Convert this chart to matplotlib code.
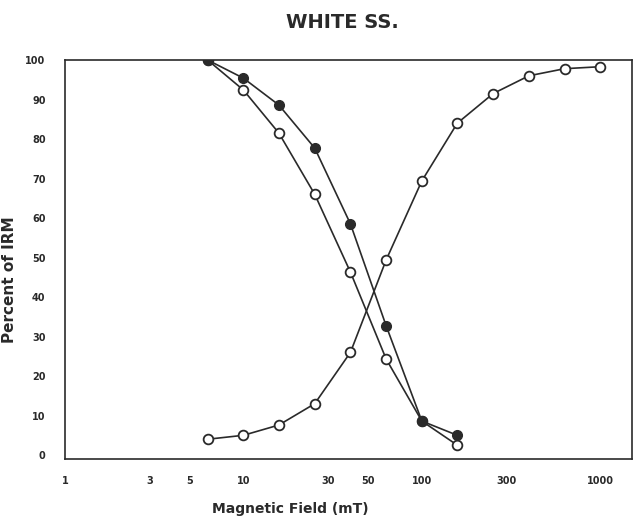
import matplotlib
matplotlib.use("Agg")
import matplotlib.pyplot as plt

# alternating field / acquisition steps (mT)
field = [6.3, 10, 15.8, 25.1, 39.8, 63.1, 100, 158, 251, 398, 631, 1000]

# IRM acquisition (open circles, rising)
irm_acq = [4, 5, 7.6, 13, 26, 49.4, 69.4, 84, 91.5, 96, 97.8, 98.3]
# AF demagnetisation (open circles, falling)
af_open = [100, 92.4, 81.5, 66, 46.3, 24.3, 8.6, 2.5]
# AF demagnetisation (filled circles)
af_fill = [100, 95.4, 88.6, 77.7, 58.5, 32.7, 8.6, 5]

xticks = [1, 3, 5, 10, 30, 50, 100, 300, 1000]
yticks = list(range(0, 101, 10))

ink = "#2a2a2a"

fig = plt.figure(figsize=(6.37, 5.18), dpi=100)
ax = fig.add_axes([65 / 637, 1 - 459 / 518, (632 - 65) / 637, (459 - 60) / 518])

ax.plot(field, irm_acq, color=ink, lw=1.2, marker="o", ms=7,
        mfc="white", mec=ink, mew=1.3)
ax.plot(field[:len(af_open)], af_open, color=ink, lw=1.2, marker="o", ms=7,
        mfc="white", mec=ink, mew=1.3)
ax.plot(field[:len(af_fill)], af_fill, color=ink, lw=1.2, marker="o", ms=7,
        mfc=ink, mec=ink, mew=1.0)

ax.set_xscale("log")
ax.set_xlim(1.066, 1506)
ax.set_ylim(-1, 100)

ax.set_xticks(xticks)
ax.set_xticklabels([str(t) for t in xticks])
ax.minorticks_off()
ax.set_yticks(yticks)
ax.tick_params(length=0, labelsize=7, colors=ink)
ax.tick_params(axis="x", pad=12)
ax.tick_params(axis="y", pad=14)
for lab in ax.get_xticklabels() + ax.get_yticklabels():
    lab.set_fontweight("bold")

for s in ax.spines.values():
    s.set_color(ink)
    s.set_linewidth(1.2)

fig.text(342 / 637, 1 - 22 / 518, "WHITE SS.", ha="center", va="center",
         fontsize=14, fontweight="bold", color=ink)
fig.text(290 / 637, 1 - 509 / 518, "Magnetic Field (mT)", ha="center",
         va="center", fontsize=10, fontweight="bold", color=ink)
fig.text(10 / 637, 1 - 280 / 518, "Percent of IRM", ha="center", va="center",
         rotation=90, fontsize=11, fontweight="bold", color=ink)

fig.savefig("out.png", dpi=100)
